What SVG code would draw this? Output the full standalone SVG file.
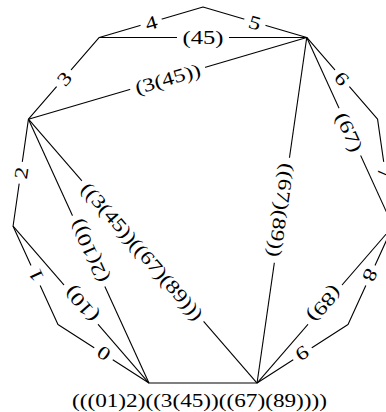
<svg xmlns="http://www.w3.org/2000/svg" width="386" height="412" viewBox="0 0 386 412">
<style>
.ln{stroke:#000;stroke-width:1.1;fill:none;stroke-linejoin:round}
.bg{fill:#fff}
.t{font-family:"Liberation Serif","DejaVu Serif",serif;font-size:19px;fill:#000;text-anchor:middle}
.root{font-family:"Liberation Serif","DejaVu Serif",serif;font-size:19px;fill:#000}
</style>
<rect width="386" height="412" fill="#fff"/>
<g id="connectors">
<polygon class="ln" points="203,7 306.75,37.46 377.56,119.18 392.94,226.21 348.03,324.57 257.06,383.02 148.94,383.02 57.97,324.57 13.06,226.21 28.44,119.18 99.25,37.46"/>
<line class="ln" x1="99.25" y1="37.46" x2="306.75" y2="37.46"/>
<line class="ln" x1="28.44" y1="119.18" x2="306.75" y2="37.46"/>
<line class="ln" x1="306.75" y1="37.46" x2="392.94" y2="226.21"/>
<line class="ln" x1="392.94" y1="226.21" x2="257.06" y2="383.02"/>
<line class="ln" x1="306.75" y1="37.46" x2="257.06" y2="383.02"/>
<line class="ln" x1="148.94" y1="383.02" x2="13.06" y2="226.21"/>
<line class="ln" x1="148.94" y1="383.02" x2="28.44" y2="119.18"/>
<line class="ln" x1="28.44" y1="119.18" x2="257.06" y2="383.02"/>
</g>
<g id="edge0" transform="translate(103.45,353.8) rotate(-147.27)"><rect class="bg" x="-11" y="-3" width="22" height="6"/><text class="t" y="7" textLength="12" lengthAdjust="spacingAndGlyphs">0</text></g>
<g id="edge1" transform="translate(35.5,275.4) rotate(-114.55)"><rect class="bg" x="-11" y="-3" width="22" height="6"/><text class="t" y="7" textLength="12" lengthAdjust="spacingAndGlyphs">1</text></g>
<g id="edge2" transform="translate(20.75,172.7) rotate(-81.82)"><rect class="bg" x="-11" y="-3" width="22" height="6"/><text class="t" y="7" textLength="12" lengthAdjust="spacingAndGlyphs">2</text></g>
<g id="edge3" transform="translate(63.85,78.32) rotate(-49.09)"><rect class="bg" x="-11" y="-3" width="22" height="6"/><text class="t" y="7" textLength="12" lengthAdjust="spacingAndGlyphs">3</text></g>
<g id="edge4" transform="translate(151.1,22.23) rotate(-16.36)"><rect class="bg" x="-11" y="-3" width="22" height="6"/><text class="t" y="7" textLength="12" lengthAdjust="spacingAndGlyphs">4</text></g>
<g id="edge5" transform="translate(254.9,22.23) rotate(16.36)"><rect class="bg" x="-11" y="-3" width="22" height="6"/><text class="t" y="7" textLength="12" lengthAdjust="spacingAndGlyphs">5</text></g>
<g id="edge6" transform="translate(342.15,78.32) rotate(49.09)"><rect class="bg" x="-11" y="-3" width="22" height="6"/><text class="t" y="7" textLength="12" lengthAdjust="spacingAndGlyphs">6</text></g>
<g id="edge7" transform="translate(385.25,172.7) rotate(81.82)"><rect class="bg" x="-11" y="-3" width="22" height="6"/><text class="t" y="7" textLength="12" lengthAdjust="spacingAndGlyphs">7</text></g>
<g id="edge8" transform="translate(370.5,275.4) rotate(114.55)"><rect class="bg" x="-11" y="-3" width="22" height="6"/><text class="t" y="7" textLength="12" lengthAdjust="spacingAndGlyphs">8</text></g>
<g id="edge9" transform="translate(302.55,353.8) rotate(147.27)"><rect class="bg" x="-11" y="-3" width="22" height="6"/><text class="t" y="7" textLength="12" lengthAdjust="spacingAndGlyphs">9</text></g>
<g id="chord45" transform="translate(203,37.46)"><rect class="bg" x="-26" y="-3" width="52" height="6"/><text class="t" y="7" textLength="41" lengthAdjust="spacingAndGlyphs">(45)</text></g>
<g id="chord345" transform="translate(167.6,78.32) rotate(-16.36)"><rect class="bg" x="-39" y="-3" width="78" height="6"/><text class="t" y="7" textLength="67.5" lengthAdjust="spacingAndGlyphs">(3(45))</text></g>
<g id="chord67" transform="translate(349.85,131.84) rotate(65.45)"><rect class="bg" x="-26" y="-3" width="52" height="6"/><text class="t" y="7" textLength="41" lengthAdjust="spacingAndGlyphs">(67)</text></g>
<g id="chord89" transform="translate(325,304.6) rotate(130.91)"><rect class="bg" x="-26" y="-3" width="52" height="6"/><text class="t" y="7" textLength="41" lengthAdjust="spacingAndGlyphs">(89)</text></g>
<g id="chord6789" transform="translate(281.9,210.24) rotate(98.18)"><rect class="bg" x="-53" y="-3" width="106" height="6"/><text class="t" y="7" textLength="94.5" lengthAdjust="spacingAndGlyphs">((67)(89))</text></g>
<g id="chord10" transform="translate(81,304.6) rotate(-130.91)"><rect class="bg" x="-26" y="-3" width="52" height="6"/><text class="t" y="7" textLength="41" lengthAdjust="spacingAndGlyphs">(10)</text></g>
<g id="chord210" transform="translate(88.69,251.1) rotate(-114.55)"><rect class="bg" x="-39" y="-3" width="78" height="6"/><text class="t" y="7" textLength="67.5" lengthAdjust="spacingAndGlyphs">(2(10))</text></g>
<g id="chordbig" transform="translate(142.75,251.1) rotate(49.09)"><rect class="bg" x="-93" y="-3" width="186" height="6"/><text class="t" y="7" textLength="175.5" lengthAdjust="spacingAndGlyphs">((3(45))((67)(89)))</text></g>
<g id="root"><text class="root" x="72" y="406.5" textLength="255" lengthAdjust="spacingAndGlyphs">(((01)2)((3(45))((67)(89))))</text></g>
</svg>
